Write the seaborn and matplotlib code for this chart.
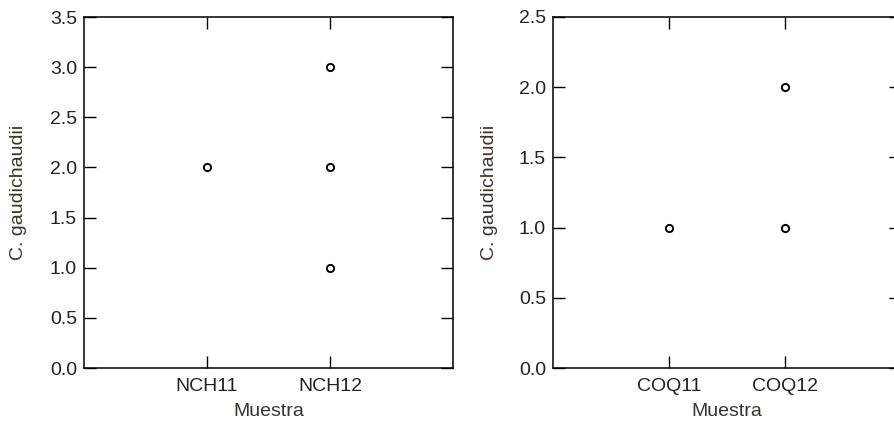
import matplotlib
matplotlib.use("Agg")
import matplotlib.pyplot as plt
import seaborn as sns
import pandas as pd

# Data
left_samples = ["NCH11", "NCH12", "NCH12", "NCH12"]
left_values = [2.0, 3.0, 2.0, 1.0]
right_samples = ["COQ11", "COQ12", "COQ12"]
right_values = [1.0, 2.0, 1.0]
left_order = ["NCH11", "NCH12"]
right_order = ["COQ11", "COQ12"]
left_yticks = [0.0, 0.5, 1.0, 1.5, 2.0, 2.5, 3.0, 3.5]
right_yticks = [0.0, 0.5, 1.0, 1.5, 2.0, 2.5]
ylabel = "C. gaudichaudii"
xlabel = "Muestra"

sns.set_theme(style="ticks")
plt.rcParams["font.family"] = ["Liberation Sans", "DejaVu Sans"]

W, H = 894, 423
fig = plt.figure(figsize=(W / 100, H / 100), dpi=100)

txt_color = "#222222"
lab_color = "#3d3128"

def px_axes(x0, x1, y0, y1):
    return fig.add_axes([x0 / W, 1 - y1 / H, (x1 - x0) / W, (y1 - y0) / H])

panels = [
    (px_axes(84, 453, 17, 368), left_samples, left_values, left_order, left_yticks, 3.5, 84, 453, 27),
    (px_axes(553, 901, 17, 368), right_samples, right_values, right_order, right_yticks, 2.5, 553, 901, 498),
]

for ax, xs, ys, order, yt, ymax, xa, xb, lab_x in panels:
    df = pd.DataFrame({"Muestra": xs, "val": ys})
    sns.stripplot(data=df, x="Muestra", y="val", order=order, jitter=False,
                  color="white", edgecolor="black", linewidth=1.4, size=5.2, ax=ax)
    ax.set_xlim(-1, len(order))
    ax.set_ylim(0, ymax)
    ax.set_yticks(yt)
    ax.set_yticklabels([f"{v:.1f}" for v in yt])
    for s in ax.spines.values():
        s.set_visible(True)
        s.set_linewidth(1.1)
        s.set_color("black")
    ax.tick_params(axis="both", direction="in", length=8.5, width=1.0, color="black",
                   labelsize=14, labelcolor=txt_color, pad=5,
                   top=True, right=True, labeltop=False, labelright=False)
    ax.tick_params(axis="x", pad=7)
    ax.set_ylabel(ylabel, fontsize=14, color=lab_color)
    ax.set_xlabel(xlabel, fontsize=14, color=lab_color)
    wpx = xb - xa
    ax.yaxis.set_label_coords((lab_x - xa) / wpx, 0.5)
    ax.xaxis.set_label_coords(0.5, (368 - 403) / 351)
    ax.set_facecolor("white")

fig.savefig("out.png", dpi=100, facecolor="white")
